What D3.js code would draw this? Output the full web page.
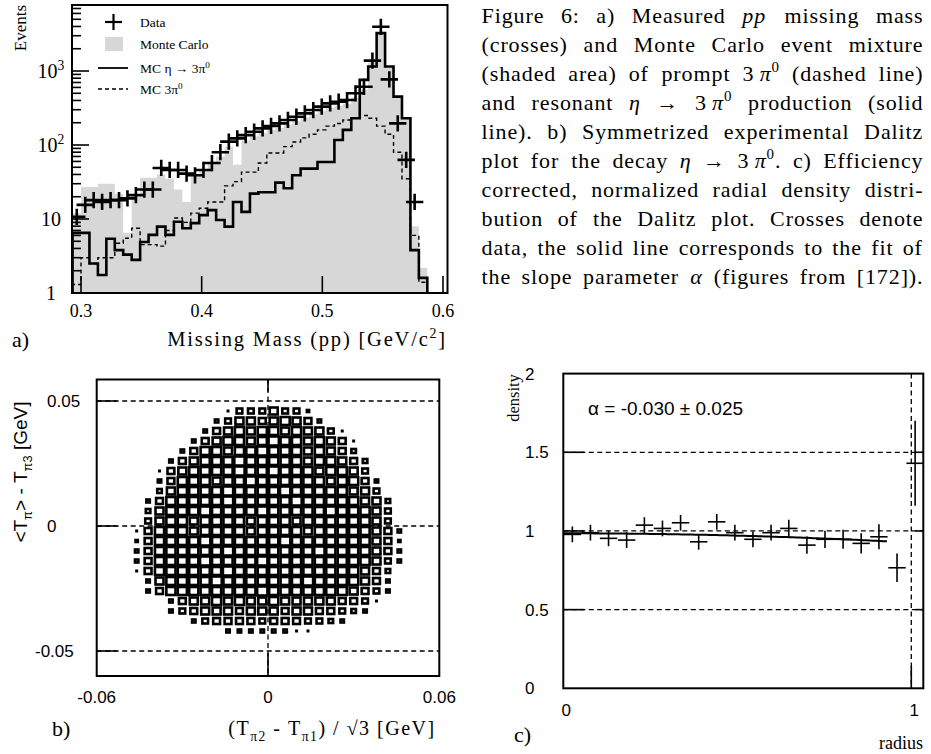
<!DOCTYPE html>
<html>
<head>
<meta charset="utf-8">
<script src="https://cdn.jsdelivr.net/npm/d3@7"></script>
<style>
  html, body { margin: 0; padding: 0; background: #fff; }
  svg { display: block; }
</style>
</head>
<body>
<svg id="fig" width="931" height="754"></svg>
<script>
// ---------- a) pp missing mass histogram: bins of 0.007 GeV/c^2 from 0.293 ----------
const massBinStart = 0.293;
const massBinWidth = 0.007;
const dataCounts = [10.7, 15.5, 18, 17, 18, 18, 19, 21, 25, 25,
                    49, 46, 46, 41, 39, 46, 57, 80, 111, 123,
                    136, 151, 168, 181, 196, 218, 241, 268, 297, 330,
                    365, 385, 405, 500, 612, 1380, 3960, 770, 196, 63,
                    17, null];
const dataLogErr = 0.11;      // half height of the data error bars, in decades
const dataHalfWidth = 0.0072; // half width of the data crosses, GeV/c^2
const mcTotal = [12, 27, 27, 30, 30, 22, 6.5, 20, 36, 36,
                 40, 35, 25, 17, 40, 45, 60, 70, 95, 54,
                 115, 130, 145, 160, 170, 190, 210, 235, 260, 290,
                 320, 340, 360, 440, 560, 1300, 3300, 1150, 450, 230,
                 8, 2.2];
const mcEta = [6.5, 6.5, 2.5, 1.75, 5.4, 3.8, 3.3, 2.8, 4.9, 6.1,
               7.9, 6.1, 9.2, 7.5, 8.8, 11.3, 13.2, 9.7, 7.9, 17,
               12.5, 22, 23, 23, 31, 26, 39, 48, 48, 59,
               59, 117, 160, 230, 760, 1150, 3250, 1150, 450, 230,
               3.8, 1.6];
const mcPrompt = [1.3, 3, 2.5, 3, 3, 4.7, 5.5, 7.5, 4.5, 4.5,
                  4.3, 7, 10.3, 9, 12, 14, 17, 17, 28, 32,
                  43, 43, 57, 78, 78, 95, 110, 125, 140, 160,
                  180, 195, 218, 230, 250, 230, 180, 140, 80, 35,
                  6, 1.4];
const aTicksX = [0.3, 0.4, 0.5, 0.6];
const aTickLabelsX = ["0.3", "0.4", "0.5", "0.6"];
const aTicksY = [1, 10, 100, 1000];
const aTickLabelsY = ["1", "10", "10^2^", "10^3^"];
const legendLabels = ["Data", "Monte Carlo", "MC η → 3π^0^", "MC 3π^0^"];

// ---------- b) symmetrized Dalitz plot, 0.004 GeV cells, box size 1..9 ----------
const dalitzStep = 0.004;
const dalitzX0 = -0.046;   // first column centre
const dalitzY0 = 0.046;    // first row centre (rows run downwards)
const dalitzRows = [
  "........15557552........",
  ".......3577678763.......",
  "......3678788787751.....",
  ".....367887898878761....",
  "....3688788988878764....",
  "...367888988888788764...",
  "..1678888988988878875...",
  "..36888788988888878863..",
  "..47888898888988888775..",
  ".3688888988888988888774.",
  ".4788898888988888988875.",
  ".5788788887888788888875.",
  "168887888878888788888763",
  "268888988888898888888762",
  "368888889888888898888763",
  "368888988889888888888753",
  "16888888988888888888764.",
  ".3788889888888898888763.",
  ".3688888888988888887653.",
  "...3677878778777776651..",
  "...356777677767766543...",
  ".....35666656665543.....",
  "........33333311........"
];
const bTicks = [-0.05, 0, 0.05];
const bTickLabelsY = ["-0.05", "0", "0.05"];
const bTicksX = [-0.06, 0, 0.06];
const bTickLabelsX = ["-0.06", "0", "0.06"];

// ---------- c) radial density of the Dalitz plot ----------
const radiusCenters = [0.026, 0.078, 0.130, 0.182, 0.233, 0.285, 0.337, 0.389, 0.441, 0.493,
                       0.545, 0.597, 0.648, 0.700, 0.752, 0.804, 0.856, 0.907, 0.959, 1.011];
const radialDensity = [0.978, 0.989, 0.953, 0.942, 1.037, 1.016, 1.052, 0.931, 1.058, 0.989,
                       0.947, 0.989, 1.016, 0.910, 0.947, 0.947, 0.921, 0.963, 0.766, 1.43];
const radialErr = [0.05, 0.05, 0.05, 0.05, 0.05, 0.05, 0.05, 0.05, 0.05, 0.05,
                   0.05, 0.05, 0.055, 0.055, 0.055, 0.06, 0.065, 0.08, 0.09, 0.27];
const radiusHalfWidth = 0.025;
const alphaFit = -0.030, alphaErr = 0.025, fitNorm = 0.985, fitRMax = 0.93;
const cTicksY = [0, 0.5, 1, 1.5, 2];
const cTickLabelsY = ["0", "0.5", "1", "1.5", "2"];
const cTicksX = [0, 1];
const cTickLabelsX = ["0", "1"];

// ---------- caption ----------
const captionLines = [
  "Figure 6: a) Measured *pp* missing mass",
  "(crosses) and Monte Carlo event mixture",
  "(shaded area) of prompt 3\u2009*π*^0^ (dashed line)",
  "and resonant *η* → 3\u2009*π*^0^ production (solid",
  "line). b) Symmetrized experimental Dalitz",
  "plot for the decay *η* → 3\u2009*π*^0^. c) Efficiency",
  "corrected, normalized radial density distri-",
  "bution of the Dalitz plot. Crosses denote",
  "data, the solid line corresponds to the fit of",
  "the slope parameter *α* (figures from [172])."
];

// ======================================================================
const svg = d3.select("#fig");
const SERIF = "'Liberation Serif','Times New Roman',serif";
const SANS = "'Liberation Sans',Arial,sans-serif";

// rich text: *italic*, ^superscript^, _subscript_
function addRich(sel, str, fs) {
  const parts = str.split(/(\*[^*]+\*|\^[^^]+\^|_[^_]+_)/).filter(s => s.length);
  let shift = 0;
  parts.forEach(p => {
    let kind = "n", t = p;
    if (p[0] === "*") { kind = "i"; t = p.slice(1, -1); }
    else if (p[0] === "^") { kind = "sup"; t = p.slice(1, -1); }
    else if (p[0] === "_") { kind = "sub"; t = p.slice(1, -1); }
    const target = kind === "sup" ? -0.38 * fs : kind === "sub" ? 0.28 * fs : 0;
    const ts = sel.append("tspan").text(t);
    if (target - shift !== 0) ts.attr("dy", target - shift);
    shift = target;
    if (kind === "i") ts.attr("font-style", "italic");
    if (kind === "sup" || kind === "sub") ts.attr("font-size", 0.68 * fs);
  });
  return sel;
}
const plain = s => s.replace(/[*^_]/g, "");
function label(x, y, str, fs, family, anchor, rot, ls) {
  const t = svg.append("text").attr("x", x).attr("y", y)
    .attr("font-family", family).attr("font-size", fs)
    .attr("text-anchor", anchor || "start").attr("fill", "#000");
  if (ls) t.attr("letter-spacing", ls);
  if (rot) t.attr("transform", `rotate(${rot},${x},${y})`);
  return addRich(t, str, fs);
}
function seg(g, x1, y1, x2, y2, w, dash) {
  const l = g.append("line").attr("x1", x1).attr("y1", y1).attr("x2", x2).attr("y2", y2)
    .attr("stroke", "#000").attr("stroke-width", w);
  if (dash) l.attr("stroke-dasharray", dash);
  return l;
}

// ---------------- panel a ----------------
const A = {l: 72, r: 447.5, t: 5, b: 293};
const ax = d3.scaleLinear().domain([0.29254, 0.60373]).range([A.l, A.r]);
const ay = d3.scaleLog().domain([1, 7800]).range([A.b, A.t]);
svg.append("clipPath").attr("id", "clipA").append("rect")
  .attr("x", A.l).attr("y", A.t).attr("width", A.r - A.l).attr("height", A.b - A.t);
const gA = svg.append("g");
const plotA = gA.append("g").attr("clip-path", "url(#clipA)");
const binLo = k => massBinStart + k * massBinWidth;
function stepPts(vals) {
  const pts = [];
  vals.forEach((v, k) => { if (v != null) pts.push([binLo(k), v], [binLo(k + 1), v]); });
  pts.unshift([pts[0][0], 1]);
  pts.push([pts[pts.length - 1][0], 1]);
  return pts;
}
const lineA = d3.line().x(d => ax(d[0])).y(d => ay(Math.max(d[1], 1)));
plotA.append("path").attr("d", lineA(stepPts(mcTotal)) + "Z").attr("fill", "#d7d7d7");
plotA.append("path").attr("d", lineA(stepPts(mcPrompt))).attr("fill", "none")
  .attr("stroke", "#000").attr("stroke-width", 1.4).attr("stroke-dasharray", "4,3");
plotA.append("path").attr("d", lineA(stepPts(mcEta))).attr("fill", "none")
  .attr("stroke", "#000").attr("stroke-width", 2.6).attr("stroke-linejoin", "miter");
dataCounts.forEach((v, k) => {
  if (v == null) return;
  const c = binLo(k) + massBinWidth / 2;
  const f = Math.pow(10, dataLogErr);
  seg(plotA, ax(c), ay(v / f), ax(c), ay(v * f), 2.6);
  seg(plotA, ax(c - dataHalfWidth), ay(v), ax(c + dataHalfWidth), ay(v), 2.6);
});
// axes a
ay.ticks().forEach(t => {
  const major = aTicksY.includes(t);
  seg(gA, A.l, ay(t), A.l + (major ? 17 : 9), ay(t), 1.6);
});
aTicksX.forEach(t => seg(gA, ax(t), A.b, ax(t), A.b - 17, 1.6));
gA.append("rect").attr("x", A.l).attr("y", A.t).attr("width", A.r - A.l).attr("height", A.b - A.t)
  .attr("fill", "none").attr("stroke", "#000").attr("stroke-width", 2);
aTicksY.forEach((t, i) => label(51, ay(t) + 7, aTickLabelsY[i], 20, SERIF, "middle"));
aTicksX.forEach((t, i) => label(ax(t), 317, aTickLabelsX[i], 18, SERIF, "middle"));
label(26, 28, "Events", 17, SERIF, "middle", -90);
label(447, 346, "Missing Mass (pp) [GeV/c^2^]", 20.5, SERIF, "end", 0, 1.8);
label(12, 347, "a)", 22, SERIF, "start");
// legend
const legY = [22, 44, 68, 89];
seg(gA, 105, legY[0], 122, legY[0], 2.2);
seg(gA, 113.5, legY[0] - 8, 113.5, legY[0] + 8, 2.2);
gA.append("rect").attr("x", 105).attr("y", legY[1] - 7).attr("width", 18).attr("height", 14).attr("fill", "#d7d7d7");
seg(gA, 98, legY[2], 128, legY[2], 1.8);
seg(gA, 98, legY[3], 128, legY[3], 1.3, "4,3");
legendLabels.forEach((s, i) => label(140, legY[i] + 5, s, 13.5, SERIF, "start"));

// ---------------- panel b ----------------
const B = {l: 96.7, r: 439.3, t: 379.5, b: 676};
const bx = d3.scaleLinear().domain([-0.06, 0.06]).range([B.l, B.r]);
const by = d3.scaleLinear().domain([-0.06, 0.0586]).range([B.b, B.t]);
const gB = svg.append("g");
const DASH = "5,3.5";
bTicks.forEach(t => {
  seg(gB, B.l, by(t), B.r, by(t), 1.3, DASH);
  seg(gB, B.l, by(t), B.l + 20, by(t), 1.6);
});
seg(gB, bx(0), B.t, bx(0), B.b, 1.3, DASH);
seg(gB, bx(0), B.b, bx(0), B.b - 23, 1.6);
seg(gB, bx(0), B.t, bx(0), B.t + 12, 1.6);
const cellW = bx(dalitzStep) - bx(0), cellH = by(0) - by(dalitzStep);
dalitzRows.forEach((row, i) => {
  const yc = dalitzY0 - i * dalitzStep;
  row.split("").forEach((ch, c) => {
    const d = +ch;
    if (!(d > 0)) return;
    const xc = dalitzX0 + c * dalitzStep;
    const s = 0.9 * d / 9;
    const w = Math.max(s * cellW, 1.2), h = Math.max(s * cellH, 1.2);
    gB.append("rect").attr("x", bx(xc) - w / 2).attr("y", by(yc) - h / 2)
      .attr("width", w).attr("height", h)
      .attr("fill", "#fff").attr("stroke", "#000").attr("stroke-width", d > 1 ? 2.6 : 1.8);
  });
});
gB.append("rect").attr("x", B.l).attr("y", B.t).attr("width", B.r - B.l).attr("height", B.b - B.t)
  .attr("fill", "none").attr("stroke", "#000").attr("stroke-width", 2);
bTicks.forEach((t, i) => label(bTickLabelsY[i][0] === "-" ? 35 : 47, by(t) + 6, bTickLabelsY[i], 17, SANS, "start"));
bTicksX.forEach((t, i) => label(bx(t), 703, bTickLabelsX[i], 17, SANS, "middle"));
label(27, 472, "<T_π_> - T_π3_ [GeV]", 19, SANS, "middle", -90);
label(332, 735, "(T_π2_ - T_π1_) / √3 [GeV]", 20, SERIF, "middle", 0, 1.5);
label(52, 736, "b)", 22, SERIF, "start");

// ---------------- panel c ----------------
const C = {l: 563.3, r: 923.3, t: 373.6, b: 688.3};
const cx = d3.scaleLinear().domain([0, 1.0345]).range([C.l, C.r]);
const cy = d3.scaleLinear().domain([0, 2]).range([C.b, C.t]);
const gC = svg.append("g");
[0.5, 1, 1.5].forEach(t => {
  seg(gC, C.l, cy(t), C.r, cy(t), 1.3, DASH);
  seg(gC, C.l, cy(t), C.l + 21, cy(t), 1.6);
  seg(gC, C.r - 8, cy(t), C.r, cy(t), 1.6);
});
seg(gC, cx(1), C.t, cx(1), C.b, 1.3, DASH);
seg(gC, cx(1), C.b, cx(1), C.b - 22, 1.6);
const fitR = d3.range(0, fitRMax + 1e-9, 0.01);
gC.append("path")
  .attr("d", d3.line().x(r => cx(r)).y(r => cy(fitNorm * (1 + 2 * alphaFit * r * r)))(fitR))
  .attr("fill", "none").attr("stroke", "#000").attr("stroke-width", 2);
radiusCenters.forEach((r, i) => {
  const v = radialDensity[i], e = radialErr[i];
  seg(gC, cx(r), cy(v - e), cx(r), cy(v + e), 1.6);
  seg(gC, cx(r - radiusHalfWidth), cy(v), cx(r + radiusHalfWidth), cy(v), 1.6);
});
gC.append("rect").attr("x", C.l).attr("y", C.t).attr("width", C.r - C.l).attr("height", C.b - C.t)
  .attr("fill", "none").attr("stroke", "#000").attr("stroke-width", 2);
cTicksY.forEach((t, i) => label(525, cy(t) + 6, cTickLabelsY[i], 17, SANS, "start"));
cTicksX.forEach((t, i) => label(cx(t) + 3, 716, cTickLabelsX[i], 17, SANS, "middle"));
label(588, 415, `α = ${alphaFit.toFixed(3)} ± ${alphaErr.toFixed(3)}`, 19, SANS, "start");
label(519, 398, "density", 16.5, SERIF, "middle", -90);
label(923, 749, "radius", 18, SERIF, "end");
label(514, 742, "c)", 22, SERIF, "start");

// ---------------- caption (justified) ----------------
const capX0 = 481.5, capX1 = 923.5, capBase0 = 22.7, capPitch = 29;
const capW = capX1 - capX0;
const gCap = svg.append("g");
let capFs = 22;
function measureWords(fs) {
  return captionLines.map(line => line.split(" ").map(w => {
    const t = gCap.append("text").attr("font-family", SERIF).attr("font-size", fs);
    addRich(t, w, fs);
    const wd = t.node().getBBox().width;
    t.remove();
    return {w, wd, n: plain(w).length};
  }));
}
let words = measureWords(capFs);
while (capFs > 14 && words.some(ws => d3.sum(ws, d => d.wd) + 0.25 * capFs * (ws.length - 1) > capW)) {
  capFs -= 0.25;
  words = measureWords(capFs);
}
words.forEach((ws, li) => {
  const total = d3.sum(ws, d => d.wd);
  const nch = d3.sum(ws, d => d.n);
  // widen the glyph run a little before stretching the inter-word gaps
  const ls = Math.max(0, Math.min(0.9, (capW - total - 0.3 * capFs * (ws.length - 1)) / nch));
  const widths = ws.map(d => d.wd + ls * d.n);
  const gap = (capW - d3.sum(widths)) / (ws.length - 1);
  let x = capX0;
  ws.forEach((d, j) => {
    const t = gCap.append("text").attr("x", x).attr("y", capBase0 + li * capPitch)
      .attr("font-family", SERIF).attr("font-size", capFs).attr("fill", "#000")
      .attr("letter-spacing", ls);
    addRich(t, d.w, capFs);
    x += widths[j] + gap;
  });
});
</script>
</body>
</html>
